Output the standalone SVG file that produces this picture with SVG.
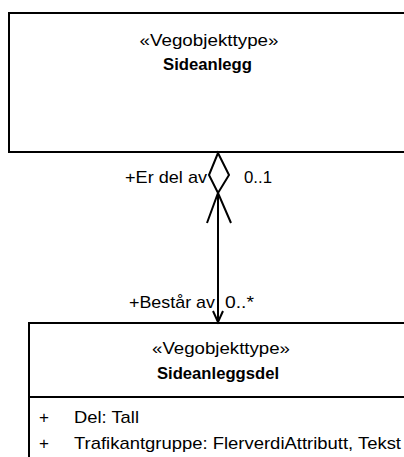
<svg xmlns="http://www.w3.org/2000/svg" width="404" height="457" viewBox="0 0 404 457">
<style>
text{font-family:"Liberation Sans",Arial,sans-serif;font-size:17px;fill:#000}
.b{font-weight:bold}
.m{text-anchor:middle}
.box{fill:#fff;stroke:#000;stroke-width:2}
.ln{fill:none;stroke:#000;stroke-width:2}
</style>
<rect width="404" height="457" fill="#fff"/>
<g id="sideanlegg">
<rect class="box" x="9" y="13" width="400" height="139"/>
<text class="m" x="209" y="46" textLength="139" lengthAdjust="spacingAndGlyphs">«Vegobjekttype»</text>
<text class="m b" x="207.5" y="70" textLength="89" lengthAdjust="spacingAndGlyphs">Sideanlegg</text>
</g>
<g id="sideanleggsdel">
<rect class="box" x="29" y="323" width="390" height="150"/>
<line class="ln" x1="29" y1="397" x2="404" y2="397"/>
<text class="m" x="221" y="354" textLength="138" lengthAdjust="spacingAndGlyphs">«Vegobjekttype»</text>
<text class="m b" x="218" y="379" textLength="122" lengthAdjust="spacingAndGlyphs">Sideanleggsdel</text>
<text x="39" y="423">+</text>
<text x="74" y="423" textLength="65" lengthAdjust="spacingAndGlyphs">Del: Tall</text>
<text x="39" y="449">+</text>
<text x="74" y="449" textLength="327" lengthAdjust="spacingAndGlyphs">Trafikantgruppe: FlerverdiAttributt, Tekst</text>
</g>
<g id="connectors">
<polygon class="ln" points="218,153 229,175 218,193 209,175" style="fill:#fff"/>
<line class="ln" x1="218" y1="193" x2="218" y2="322"/>
<polyline class="ln" points="207,223 218,193 231,223"/>
<polyline class="ln" points="213,311 218,322 223,311"/>
<text x="125" y="183" textLength="82" lengthAdjust="spacingAndGlyphs">+Er del av</text>
<text x="244" y="183" textLength="28" lengthAdjust="spacingAndGlyphs">0..1</text>
<text x="129" y="308" textLength="86" lengthAdjust="spacingAndGlyphs">+Består av</text>
<text x="225" y="308" textLength="29" lengthAdjust="spacingAndGlyphs">0..*</text>
</g>
</svg>
